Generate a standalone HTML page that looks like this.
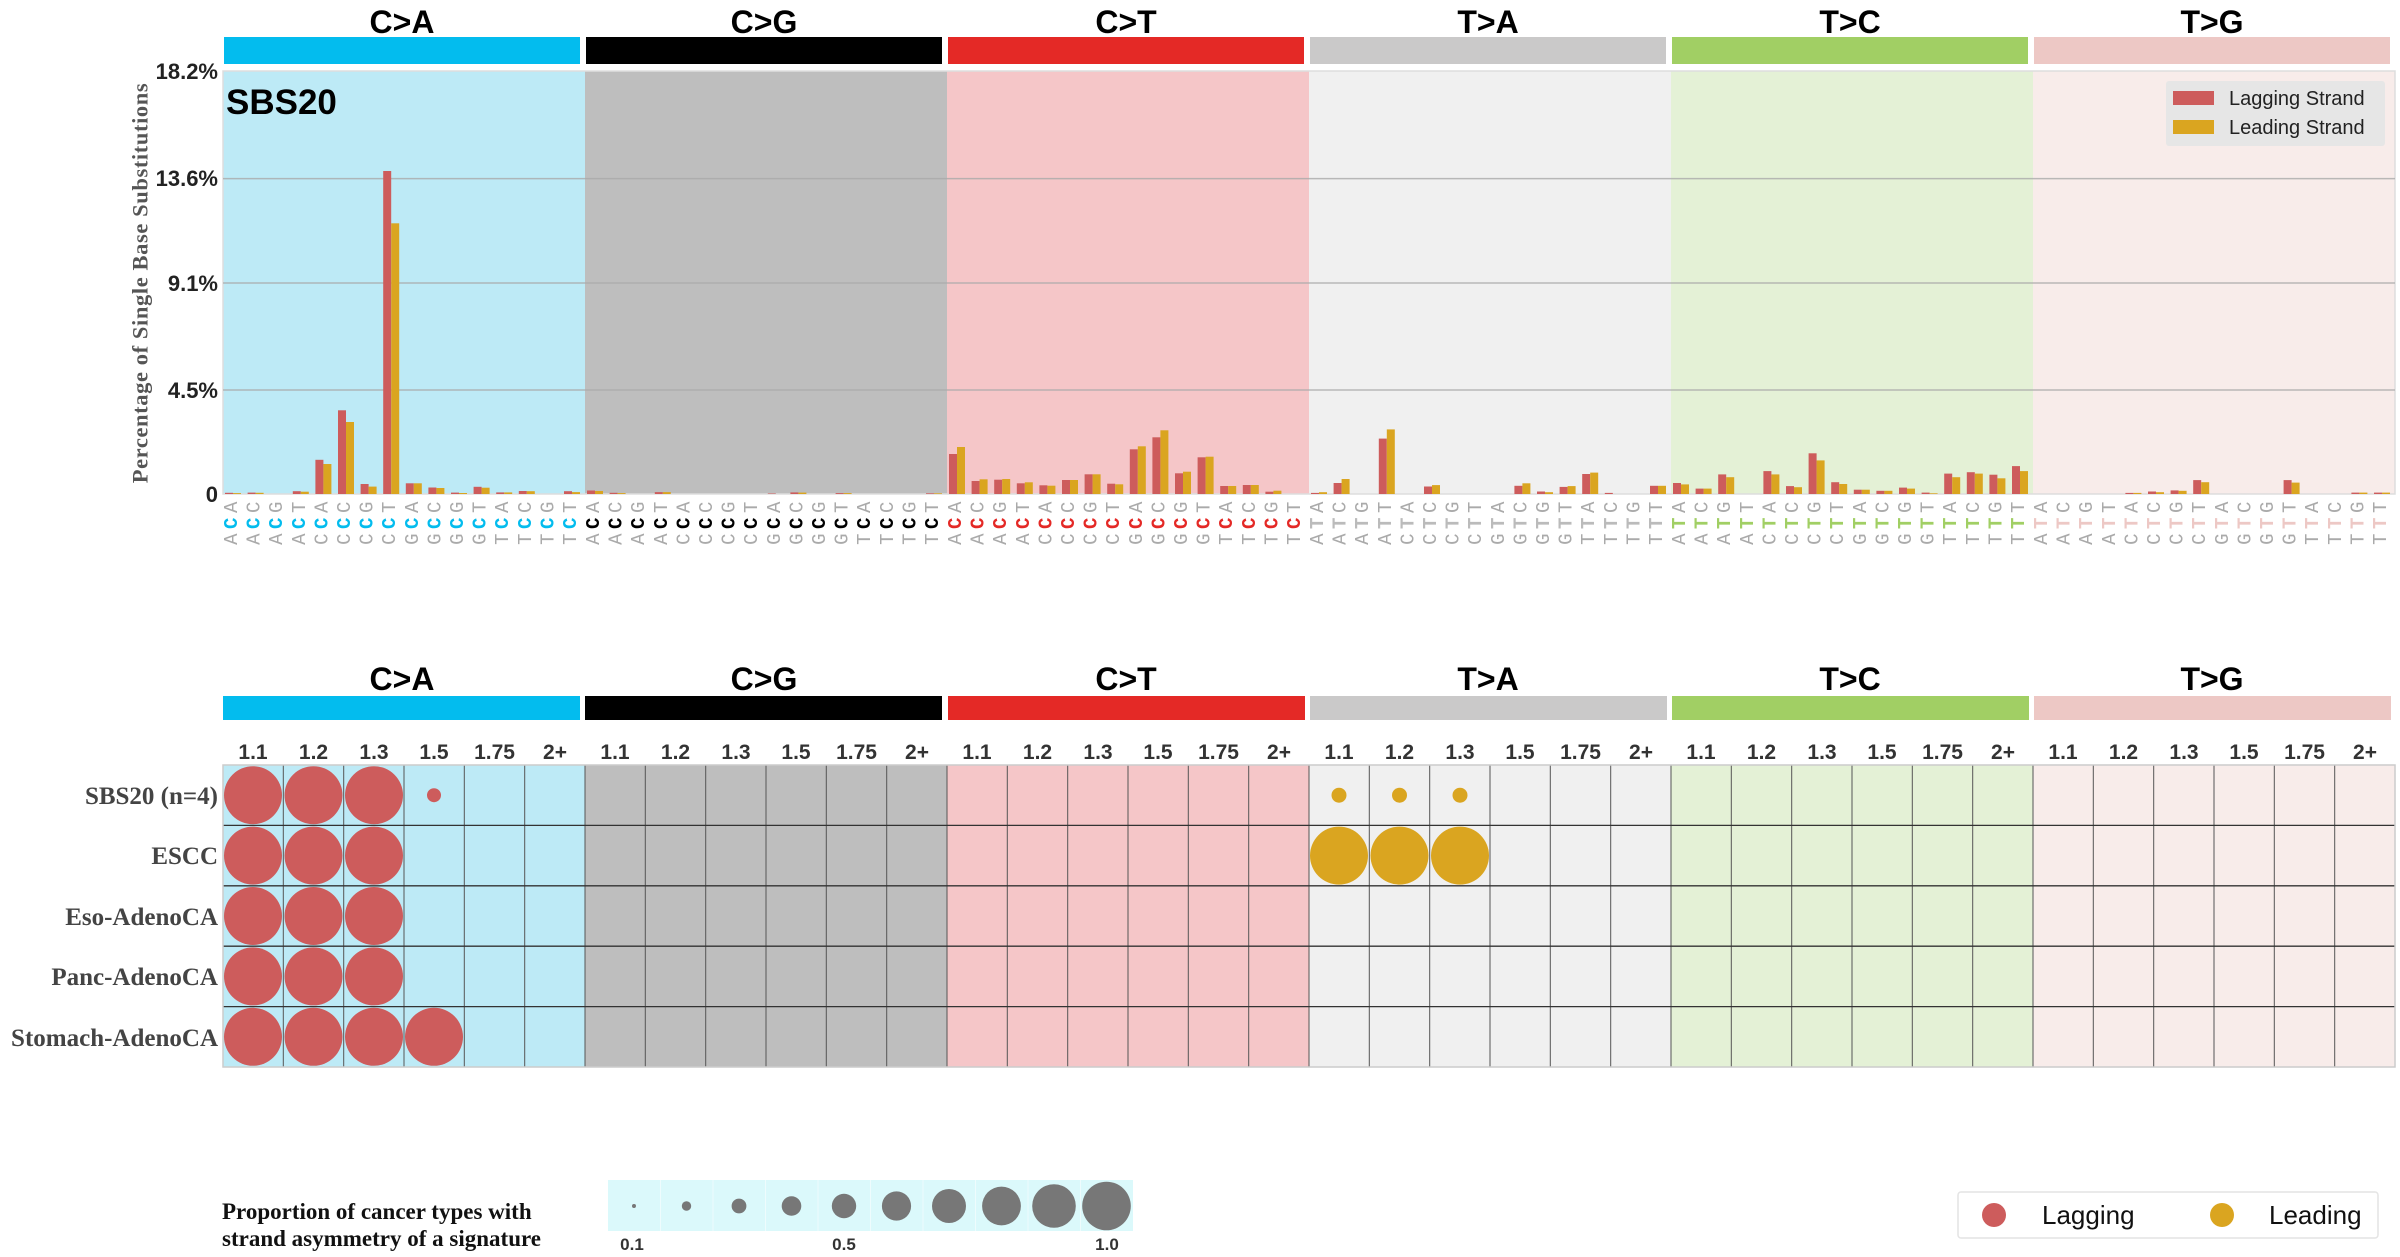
<!DOCTYPE html>
<html><head><meta charset="utf-8"><style>
body{margin:0;background:#fff}
svg{display:block}
.t{font-family:"Liberation Sans",sans-serif;font-weight:bold;font-size:32px;text-anchor:middle}
.yt{font-family:"Liberation Sans",sans-serif;font-weight:bold;font-size:22px;text-anchor:end;fill:#222}
.cl{font-family:"Liberation Sans",sans-serif;font-weight:bold;font-size:21px;text-anchor:middle;fill:#333}
.rl{font-family:"Liberation Serif",serif;font-weight:bold;font-size:25px;text-anchor:end;fill:#444}
.xl text{font-family:"Liberation Mono",monospace;font-size:19px;fill:#aaa;text-anchor:middle;dominant-baseline:central;letter-spacing:4.5px}
.xl .m{font-weight:bold}
.ca .m{fill:#03bcee}.cg .m{fill:#000}.ct .m{fill:#e42926}.ta .m{fill:#bbb}.tc .m{fill:#a1cf64}.tg .m{fill:#edc8c5}
.r{fill:#cd5c5c}.y{fill:#daa520}
</style></head><body>
<svg width="2400" height="1257" viewBox="0 0 2400 1257" xmlns="http://www.w3.org/2000/svg">
<text class="t" x="402" y="33">C&gt;A</text>
<text class="t" x="764" y="33">C&gt;G</text>
<text class="t" x="1126" y="33">C&gt;T</text>
<text class="t" x="1488" y="33">T&gt;A</text>
<text class="t" x="1850" y="33">T&gt;C</text>
<text class="t" x="2212" y="33">T&gt;G</text>
<rect x="224" y="37" width="356" height="27" fill="#03bcee"/>
<rect x="586" y="37" width="356" height="27" fill="#000"/>
<rect x="948" y="37" width="356" height="27" fill="#e42926"/>
<rect x="1310" y="37" width="356" height="27" fill="#cac9c9"/>
<rect x="1672" y="37" width="356" height="27" fill="#a1cf64"/>
<rect x="2034" y="37" width="356" height="27" fill="#edc8c5"/>
<rect x="223" y="71" width="362" height="423" fill="#bdeaf6"/>
<rect x="585" y="71" width="362" height="423" fill="#bebebe"/>
<rect x="947" y="71" width="362" height="423" fill="#f5c6c8"/>
<rect x="1309" y="71" width="362" height="423" fill="#f0f0f0"/>
<rect x="1671" y="71" width="362" height="423" fill="#e4f1d6"/>
<rect x="2033" y="71" width="362" height="423" fill="#f8ecea"/>
<rect x="223" y="71" width="2172" height="423" fill="none" stroke="#ddd" stroke-width="1.5"/>
<g stroke="#aaa" stroke-width="1.5" opacity="0.8">
<line x1="223" x2="2395" y1="178.6" y2="178.6"/>
<line x1="223" x2="2395" y1="283" y2="283"/>
<line x1="223" x2="2395" y1="390" y2="390"/>
</g>
<text class="yt" x="218" y="79">18.2%</text>
<text class="yt" x="218" y="186">13.6%</text>
<text class="yt" x="218" y="291">9.1%</text>
<text class="yt" x="218" y="398">4.5%</text>
<text class="yt" x="218" y="502">0</text>
<text x="140" y="283" transform="rotate(-90 140 283)" font-family="Liberation Serif,serif" font-weight="bold" font-size="22.5" fill="#555" text-anchor="middle" dominant-baseline="central" letter-spacing="0.6">Percentage of Single Base Substitutions</text>
<text x="226" y="114" font-family="Liberation Sans,sans-serif" font-weight="bold" font-size="35" fill="#000">SBS20</text>
<rect x="2166" y="81" width="219" height="65" fill="#e6e6e6" rx="3"/>
<rect x="2173" y="91" width="41" height="14" class="r"/>
<rect x="2173" y="120" width="41" height="14" class="y"/>
<text x="2229" y="105" font-family="Liberation Sans,sans-serif" font-size="20" fill="#222">Lagging Strand</text>
<text x="2229" y="134" font-family="Liberation Sans,sans-serif" font-size="20" fill="#222">Leading Strand</text>

<g transform="translate(223,0)">
<rect class="r" x="2" y="492.8" width="8" height="1.2"/><rect class="y" x="10" y="493.1" width="8" height="0.9"/>
<rect class="r" x="24.6" y="492.6" width="8" height="1.4"/><rect class="y" x="32.6" y="492.8" width="8" height="1.2"/>
<rect class="r" x="69.8" y="491.2" width="8" height="2.8"/><rect class="y" x="77.8" y="491.7" width="8" height="2.3"/>
<rect class="r" x="92.4" y="459.8" width="8" height="34.2"/><rect class="y" x="100.4" y="464" width="8" height="30"/>
<rect class="r" x="115" y="410.3" width="8" height="83.7"/><rect class="y" x="123" y="422" width="8" height="72"/>
<rect class="r" x="137.6" y="484" width="8" height="10"/><rect class="y" x="145.6" y="486.6" width="8" height="7.4"/>
<rect class="r" x="160.2" y="171" width="8" height="323"/><rect class="y" x="168.2" y="223.3" width="8" height="270.7"/>
<rect class="r" x="182.8" y="483.3" width="8" height="10.7"/><rect class="y" x="190.8" y="483.3" width="8" height="10.7"/>
<rect class="r" x="205.4" y="487.5" width="8" height="6.5"/><rect class="y" x="213.4" y="488" width="8" height="6"/>
<rect class="r" x="228" y="492.6" width="8" height="1.4"/><rect class="y" x="236" y="493" width="8" height="1"/>
<rect class="r" x="250.6" y="486.8" width="8" height="7.2"/><rect class="y" x="258.6" y="487.7" width="8" height="6.3"/>
<rect class="r" x="273.2" y="492.4" width="8" height="1.6"/><rect class="y" x="281.2" y="492.4" width="8" height="1.6"/>
<rect class="r" x="295.8" y="491" width="8" height="3"/><rect class="y" x="303.8" y="491.2" width="8" height="2.8"/>
<rect class="r" x="341" y="491.2" width="8" height="2.8"/><rect class="y" x="349" y="492.1" width="8" height="1.9"/>
</g>
<g transform="translate(585,0)">
<rect class="r" x="2" y="490.5" width="8" height="3.5"/><rect class="y" x="10" y="491" width="8" height="3"/>
<rect class="r" x="24.6" y="492.8" width="8" height="1.2"/><rect class="y" x="32.6" y="493.1" width="8" height="0.9"/>
<rect class="r" x="69.8" y="492.1" width="8" height="1.9"/><rect class="y" x="77.8" y="492.1" width="8" height="1.9"/>
<rect class="r" x="182.8" y="493.5" width="8" height="0.5"/>
<rect class="r" x="205.4" y="492.4" width="8" height="1.6"/><rect class="y" x="213.4" y="492.6" width="8" height="1.4"/>
<rect class="r" x="250.6" y="493.1" width="8" height="0.9"/><rect class="y" x="258.6" y="493.1" width="8" height="0.9"/>
<rect class="r" x="341" y="493.3" width="8" height="0.7"/><rect class="y" x="349" y="493.3" width="8" height="0.7"/>
</g>
<g transform="translate(947,0)">
<rect class="r" x="2" y="454" width="8" height="40"/><rect class="y" x="10" y="447" width="8" height="47"/>
<rect class="r" x="24.6" y="481" width="8" height="13"/><rect class="y" x="32.6" y="479.3" width="8" height="14.7"/>
<rect class="r" x="47.2" y="479.7" width="8" height="14.3"/><rect class="y" x="55.2" y="479" width="8" height="15"/>
<rect class="r" x="69.8" y="483.3" width="8" height="10.7"/><rect class="y" x="77.8" y="482.3" width="8" height="11.7"/>
<rect class="r" x="92.4" y="485.3" width="8" height="8.7"/><rect class="y" x="100.4" y="485.7" width="8" height="8.3"/>
<rect class="r" x="115" y="480" width="8" height="14"/><rect class="y" x="123" y="480" width="8" height="14"/>
<rect class="r" x="137.6" y="474.3" width="8" height="19.7"/><rect class="y" x="145.6" y="474.3" width="8" height="19.7"/>
<rect class="r" x="160.2" y="483.7" width="8" height="10.3"/><rect class="y" x="168.2" y="484.3" width="8" height="9.7"/>
<rect class="r" x="182.8" y="449.3" width="8" height="44.7"/><rect class="y" x="190.8" y="446.3" width="8" height="47.7"/>
<rect class="r" x="205.4" y="437.3" width="8" height="56.7"/><rect class="y" x="213.4" y="430.3" width="8" height="63.7"/>
<rect class="r" x="228" y="473.3" width="8" height="20.7"/><rect class="y" x="236" y="471.7" width="8" height="22.3"/>
<rect class="r" x="250.6" y="457.3" width="8" height="36.7"/><rect class="y" x="258.6" y="456.7" width="8" height="37.3"/>
<rect class="r" x="273.2" y="486" width="8" height="8"/><rect class="y" x="281.2" y="486" width="8" height="8"/>
<rect class="r" x="295.8" y="485" width="8" height="9"/><rect class="y" x="303.8" y="485" width="8" height="9"/>
<rect class="r" x="318.4" y="491.7" width="8" height="2.3"/><rect class="y" x="326.4" y="490.7" width="8" height="3.3"/>
</g>
<g transform="translate(1309,0)">
<rect class="r" x="2" y="492.9" width="8" height="1.1"/><rect class="y" x="10" y="492.2" width="8" height="1.8"/>
<rect class="r" x="24.6" y="483" width="8" height="11"/><rect class="y" x="32.6" y="479" width="8" height="15"/>
<rect class="r" x="69.8" y="438.6" width="8" height="55.4"/><rect class="y" x="77.8" y="429.4" width="8" height="64.6"/>
<rect class="r" x="115" y="486.5" width="8" height="7.5"/><rect class="y" x="123" y="485.1" width="8" height="8.9"/>
<rect class="r" x="205.4" y="485.8" width="8" height="8.2"/><rect class="y" x="213.4" y="483.3" width="8" height="10.7"/>
<rect class="r" x="228" y="491.5" width="8" height="2.5"/><rect class="y" x="236" y="492.2" width="8" height="1.8"/>
<rect class="r" x="250.6" y="486.9" width="8" height="7.1"/><rect class="y" x="258.6" y="486.1" width="8" height="7.9"/>
<rect class="r" x="273.2" y="474" width="8" height="20"/><rect class="y" x="281.2" y="472.6" width="8" height="21.4"/>
<rect class="r" x="295.8" y="492.9" width="8" height="1.1"/>
<rect class="r" x="341" y="485.8" width="8" height="8.2"/><rect class="y" x="349" y="485.8" width="8" height="8.2"/>
</g>
<g transform="translate(1671,0)">
<rect class="r" x="2" y="483" width="8" height="11"/><rect class="y" x="10" y="484.4" width="8" height="9.6"/>
<rect class="r" x="24.6" y="488.6" width="8" height="5.4"/><rect class="y" x="32.6" y="488.6" width="8" height="5.4"/>
<rect class="r" x="47.2" y="474.4" width="8" height="19.6"/><rect class="y" x="55.2" y="477.2" width="8" height="16.8"/>
<rect class="r" x="92.4" y="471.1" width="8" height="22.9"/><rect class="y" x="100.4" y="474.4" width="8" height="19.6"/>
<rect class="r" x="115" y="486.1" width="8" height="7.9"/><rect class="y" x="123" y="487.2" width="8" height="6.8"/>
<rect class="r" x="137.6" y="453.3" width="8" height="40.7"/><rect class="y" x="145.6" y="460.4" width="8" height="33.6"/>
<rect class="r" x="160.2" y="482.2" width="8" height="11.8"/><rect class="y" x="168.2" y="484" width="8" height="10"/>
<rect class="r" x="182.8" y="489.7" width="8" height="4.3"/><rect class="y" x="190.8" y="489.7" width="8" height="4.3"/>
<rect class="r" x="205.4" y="490.8" width="8" height="3.2"/><rect class="y" x="213.4" y="490.8" width="8" height="3.2"/>
<rect class="r" x="228" y="487.6" width="8" height="6.4"/><rect class="y" x="236" y="488.6" width="8" height="5.4"/>
<rect class="r" x="250.6" y="492.6" width="8" height="1.4"/><rect class="y" x="258.6" y="493.3" width="8" height="0.7"/>
<rect class="r" x="273.2" y="473.6" width="8" height="20.4"/><rect class="y" x="281.2" y="477.2" width="8" height="16.8"/>
<rect class="r" x="295.8" y="472.2" width="8" height="21.8"/><rect class="y" x="303.8" y="473.6" width="8" height="20.4"/>
<rect class="r" x="318.4" y="474.7" width="8" height="19.3"/><rect class="y" x="326.4" y="478.3" width="8" height="15.7"/>
<rect class="r" x="341" y="466.1" width="8" height="27.9"/><rect class="y" x="349" y="471.1" width="8" height="22.9"/>
</g>
<g transform="translate(2033,0)">
<rect class="r" x="92.4" y="492.9" width="8" height="1.1"/><rect class="y" x="100.4" y="492.9" width="8" height="1.1"/>
<rect class="r" x="115" y="491.5" width="8" height="2.5"/><rect class="y" x="123" y="492.2" width="8" height="1.8"/>
<rect class="r" x="137.6" y="490.4" width="8" height="3.6"/><rect class="y" x="145.6" y="490.8" width="8" height="3.2"/>
<rect class="r" x="160.2" y="480.1" width="8" height="13.9"/><rect class="y" x="168.2" y="482.2" width="8" height="11.8"/>
<rect class="r" x="250.6" y="480.1" width="8" height="13.9"/><rect class="y" x="258.6" y="482.6" width="8" height="11.4"/>
<rect class="r" x="318.4" y="492.6" width="8" height="1.4"/><rect class="y" x="326.4" y="492.6" width="8" height="1.4"/>
<rect class="r" x="341" y="492.6" width="8" height="1.4"/><rect class="y" x="349" y="492.6" width="8" height="1.4"/>
</g>

<g class="xl ca" transform="translate(223,0)">
<text x="9" y="521" transform="rotate(-90 9 521)">A<tspan class="m">C</tspan>A</text>
<text x="31.6" y="521" transform="rotate(-90 31.6 521)">A<tspan class="m">C</tspan>C</text>
<text x="54.2" y="521" transform="rotate(-90 54.2 521)">A<tspan class="m">C</tspan>G</text>
<text x="76.8" y="521" transform="rotate(-90 76.8 521)">A<tspan class="m">C</tspan>T</text>
<text x="99.4" y="521" transform="rotate(-90 99.4 521)">C<tspan class="m">C</tspan>A</text>
<text x="122" y="521" transform="rotate(-90 122 521)">C<tspan class="m">C</tspan>C</text>
<text x="144.6" y="521" transform="rotate(-90 144.6 521)">C<tspan class="m">C</tspan>G</text>
<text x="167.2" y="521" transform="rotate(-90 167.2 521)">C<tspan class="m">C</tspan>T</text>
<text x="189.8" y="521" transform="rotate(-90 189.8 521)">G<tspan class="m">C</tspan>A</text>
<text x="212.4" y="521" transform="rotate(-90 212.4 521)">G<tspan class="m">C</tspan>C</text>
<text x="235" y="521" transform="rotate(-90 235 521)">G<tspan class="m">C</tspan>G</text>
<text x="257.6" y="521" transform="rotate(-90 257.6 521)">G<tspan class="m">C</tspan>T</text>
<text x="280.2" y="521" transform="rotate(-90 280.2 521)">T<tspan class="m">C</tspan>A</text>
<text x="302.8" y="521" transform="rotate(-90 302.8 521)">T<tspan class="m">C</tspan>C</text>
<text x="325.4" y="521" transform="rotate(-90 325.4 521)">T<tspan class="m">C</tspan>G</text>
<text x="348" y="521" transform="rotate(-90 348 521)">T<tspan class="m">C</tspan>T</text>
</g>
<g class="xl cg" transform="translate(585,0)">
<text x="9" y="521" transform="rotate(-90 9 521)">A<tspan class="m">C</tspan>A</text>
<text x="31.6" y="521" transform="rotate(-90 31.6 521)">A<tspan class="m">C</tspan>C</text>
<text x="54.2" y="521" transform="rotate(-90 54.2 521)">A<tspan class="m">C</tspan>G</text>
<text x="76.8" y="521" transform="rotate(-90 76.8 521)">A<tspan class="m">C</tspan>T</text>
<text x="99.4" y="521" transform="rotate(-90 99.4 521)">C<tspan class="m">C</tspan>A</text>
<text x="122" y="521" transform="rotate(-90 122 521)">C<tspan class="m">C</tspan>C</text>
<text x="144.6" y="521" transform="rotate(-90 144.6 521)">C<tspan class="m">C</tspan>G</text>
<text x="167.2" y="521" transform="rotate(-90 167.2 521)">C<tspan class="m">C</tspan>T</text>
<text x="189.8" y="521" transform="rotate(-90 189.8 521)">G<tspan class="m">C</tspan>A</text>
<text x="212.4" y="521" transform="rotate(-90 212.4 521)">G<tspan class="m">C</tspan>C</text>
<text x="235" y="521" transform="rotate(-90 235 521)">G<tspan class="m">C</tspan>G</text>
<text x="257.6" y="521" transform="rotate(-90 257.6 521)">G<tspan class="m">C</tspan>T</text>
<text x="280.2" y="521" transform="rotate(-90 280.2 521)">T<tspan class="m">C</tspan>A</text>
<text x="302.8" y="521" transform="rotate(-90 302.8 521)">T<tspan class="m">C</tspan>C</text>
<text x="325.4" y="521" transform="rotate(-90 325.4 521)">T<tspan class="m">C</tspan>G</text>
<text x="348" y="521" transform="rotate(-90 348 521)">T<tspan class="m">C</tspan>T</text>
</g>
<g class="xl ct" transform="translate(947,0)">
<text x="9" y="521" transform="rotate(-90 9 521)">A<tspan class="m">C</tspan>A</text>
<text x="31.6" y="521" transform="rotate(-90 31.6 521)">A<tspan class="m">C</tspan>C</text>
<text x="54.2" y="521" transform="rotate(-90 54.2 521)">A<tspan class="m">C</tspan>G</text>
<text x="76.8" y="521" transform="rotate(-90 76.8 521)">A<tspan class="m">C</tspan>T</text>
<text x="99.4" y="521" transform="rotate(-90 99.4 521)">C<tspan class="m">C</tspan>A</text>
<text x="122" y="521" transform="rotate(-90 122 521)">C<tspan class="m">C</tspan>C</text>
<text x="144.6" y="521" transform="rotate(-90 144.6 521)">C<tspan class="m">C</tspan>G</text>
<text x="167.2" y="521" transform="rotate(-90 167.2 521)">C<tspan class="m">C</tspan>T</text>
<text x="189.8" y="521" transform="rotate(-90 189.8 521)">G<tspan class="m">C</tspan>A</text>
<text x="212.4" y="521" transform="rotate(-90 212.4 521)">G<tspan class="m">C</tspan>C</text>
<text x="235" y="521" transform="rotate(-90 235 521)">G<tspan class="m">C</tspan>G</text>
<text x="257.6" y="521" transform="rotate(-90 257.6 521)">G<tspan class="m">C</tspan>T</text>
<text x="280.2" y="521" transform="rotate(-90 280.2 521)">T<tspan class="m">C</tspan>A</text>
<text x="302.8" y="521" transform="rotate(-90 302.8 521)">T<tspan class="m">C</tspan>C</text>
<text x="325.4" y="521" transform="rotate(-90 325.4 521)">T<tspan class="m">C</tspan>G</text>
<text x="348" y="521" transform="rotate(-90 348 521)">T<tspan class="m">C</tspan>T</text>
</g>
<g class="xl ta" transform="translate(1309,0)">
<text x="9" y="521" transform="rotate(-90 9 521)">A<tspan class="m">T</tspan>A</text>
<text x="31.6" y="521" transform="rotate(-90 31.6 521)">A<tspan class="m">T</tspan>C</text>
<text x="54.2" y="521" transform="rotate(-90 54.2 521)">A<tspan class="m">T</tspan>G</text>
<text x="76.8" y="521" transform="rotate(-90 76.8 521)">A<tspan class="m">T</tspan>T</text>
<text x="99.4" y="521" transform="rotate(-90 99.4 521)">C<tspan class="m">T</tspan>A</text>
<text x="122" y="521" transform="rotate(-90 122 521)">C<tspan class="m">T</tspan>C</text>
<text x="144.6" y="521" transform="rotate(-90 144.6 521)">C<tspan class="m">T</tspan>G</text>
<text x="167.2" y="521" transform="rotate(-90 167.2 521)">C<tspan class="m">T</tspan>T</text>
<text x="189.8" y="521" transform="rotate(-90 189.8 521)">G<tspan class="m">T</tspan>A</text>
<text x="212.4" y="521" transform="rotate(-90 212.4 521)">G<tspan class="m">T</tspan>C</text>
<text x="235" y="521" transform="rotate(-90 235 521)">G<tspan class="m">T</tspan>G</text>
<text x="257.6" y="521" transform="rotate(-90 257.6 521)">G<tspan class="m">T</tspan>T</text>
<text x="280.2" y="521" transform="rotate(-90 280.2 521)">T<tspan class="m">T</tspan>A</text>
<text x="302.8" y="521" transform="rotate(-90 302.8 521)">T<tspan class="m">T</tspan>C</text>
<text x="325.4" y="521" transform="rotate(-90 325.4 521)">T<tspan class="m">T</tspan>G</text>
<text x="348" y="521" transform="rotate(-90 348 521)">T<tspan class="m">T</tspan>T</text>
</g>
<g class="xl tc" transform="translate(1671,0)">
<text x="9" y="521" transform="rotate(-90 9 521)">A<tspan class="m">T</tspan>A</text>
<text x="31.6" y="521" transform="rotate(-90 31.6 521)">A<tspan class="m">T</tspan>C</text>
<text x="54.2" y="521" transform="rotate(-90 54.2 521)">A<tspan class="m">T</tspan>G</text>
<text x="76.8" y="521" transform="rotate(-90 76.8 521)">A<tspan class="m">T</tspan>T</text>
<text x="99.4" y="521" transform="rotate(-90 99.4 521)">C<tspan class="m">T</tspan>A</text>
<text x="122" y="521" transform="rotate(-90 122 521)">C<tspan class="m">T</tspan>C</text>
<text x="144.6" y="521" transform="rotate(-90 144.6 521)">C<tspan class="m">T</tspan>G</text>
<text x="167.2" y="521" transform="rotate(-90 167.2 521)">C<tspan class="m">T</tspan>T</text>
<text x="189.8" y="521" transform="rotate(-90 189.8 521)">G<tspan class="m">T</tspan>A</text>
<text x="212.4" y="521" transform="rotate(-90 212.4 521)">G<tspan class="m">T</tspan>C</text>
<text x="235" y="521" transform="rotate(-90 235 521)">G<tspan class="m">T</tspan>G</text>
<text x="257.6" y="521" transform="rotate(-90 257.6 521)">G<tspan class="m">T</tspan>T</text>
<text x="280.2" y="521" transform="rotate(-90 280.2 521)">T<tspan class="m">T</tspan>A</text>
<text x="302.8" y="521" transform="rotate(-90 302.8 521)">T<tspan class="m">T</tspan>C</text>
<text x="325.4" y="521" transform="rotate(-90 325.4 521)">T<tspan class="m">T</tspan>G</text>
<text x="348" y="521" transform="rotate(-90 348 521)">T<tspan class="m">T</tspan>T</text>
</g>
<g class="xl tg" transform="translate(2033,0)">
<text x="9" y="521" transform="rotate(-90 9 521)">A<tspan class="m">T</tspan>A</text>
<text x="31.6" y="521" transform="rotate(-90 31.6 521)">A<tspan class="m">T</tspan>C</text>
<text x="54.2" y="521" transform="rotate(-90 54.2 521)">A<tspan class="m">T</tspan>G</text>
<text x="76.8" y="521" transform="rotate(-90 76.8 521)">A<tspan class="m">T</tspan>T</text>
<text x="99.4" y="521" transform="rotate(-90 99.4 521)">C<tspan class="m">T</tspan>A</text>
<text x="122" y="521" transform="rotate(-90 122 521)">C<tspan class="m">T</tspan>C</text>
<text x="144.6" y="521" transform="rotate(-90 144.6 521)">C<tspan class="m">T</tspan>G</text>
<text x="167.2" y="521" transform="rotate(-90 167.2 521)">C<tspan class="m">T</tspan>T</text>
<text x="189.8" y="521" transform="rotate(-90 189.8 521)">G<tspan class="m">T</tspan>A</text>
<text x="212.4" y="521" transform="rotate(-90 212.4 521)">G<tspan class="m">T</tspan>C</text>
<text x="235" y="521" transform="rotate(-90 235 521)">G<tspan class="m">T</tspan>G</text>
<text x="257.6" y="521" transform="rotate(-90 257.6 521)">G<tspan class="m">T</tspan>T</text>
<text x="280.2" y="521" transform="rotate(-90 280.2 521)">T<tspan class="m">T</tspan>A</text>
<text x="302.8" y="521" transform="rotate(-90 302.8 521)">T<tspan class="m">T</tspan>C</text>
<text x="325.4" y="521" transform="rotate(-90 325.4 521)">T<tspan class="m">T</tspan>G</text>
<text x="348" y="521" transform="rotate(-90 348 521)">T<tspan class="m">T</tspan>T</text>
</g>

<text class="t" x="402" y="690">C&gt;A</text>
<text class="t" x="764" y="690">C&gt;G</text>
<text class="t" x="1126" y="690">C&gt;T</text>
<text class="t" x="1488" y="690">T&gt;A</text>
<text class="t" x="1850" y="690">T&gt;C</text>
<text class="t" x="2212" y="690">T&gt;G</text>
<rect x="223" y="696" width="357" height="24" fill="#03bcee"/>
<rect x="585" y="696" width="357" height="24" fill="#000"/>
<rect x="948" y="696" width="357" height="24" fill="#e42926"/>
<rect x="1310" y="696" width="357" height="24" fill="#cac9c9"/>
<rect x="1672" y="696" width="357" height="24" fill="#a1cf64"/>
<rect x="2034" y="696" width="357" height="24" fill="#edc8c5"/>
<g>
<text class="cl" x="253" y="759">1.1</text><text class="cl" x="313.5" y="759">1.2</text><text class="cl" x="374" y="759">1.3</text><text class="cl" x="434" y="759">1.5</text><text class="cl" x="494.5" y="759">1.75</text><text class="cl" x="555" y="759">2+</text>
<text class="cl" x="615" y="759">1.1</text><text class="cl" x="675.5" y="759">1.2</text><text class="cl" x="736" y="759">1.3</text><text class="cl" x="796" y="759">1.5</text><text class="cl" x="856.5" y="759">1.75</text><text class="cl" x="917" y="759">2+</text>
<text class="cl" x="977" y="759">1.1</text><text class="cl" x="1037.5" y="759">1.2</text><text class="cl" x="1098" y="759">1.3</text><text class="cl" x="1158" y="759">1.5</text><text class="cl" x="1218.5" y="759">1.75</text><text class="cl" x="1279" y="759">2+</text>
<text class="cl" x="1339" y="759">1.1</text><text class="cl" x="1399.5" y="759">1.2</text><text class="cl" x="1460" y="759">1.3</text><text class="cl" x="1520" y="759">1.5</text><text class="cl" x="1580.5" y="759">1.75</text><text class="cl" x="1641" y="759">2+</text>
<text class="cl" x="1701" y="759">1.1</text><text class="cl" x="1761.5" y="759">1.2</text><text class="cl" x="1822" y="759">1.3</text><text class="cl" x="1882" y="759">1.5</text><text class="cl" x="1942.5" y="759">1.75</text><text class="cl" x="2003" y="759">2+</text>
<text class="cl" x="2063" y="759">1.1</text><text class="cl" x="2123.5" y="759">1.2</text><text class="cl" x="2184" y="759">1.3</text><text class="cl" x="2244" y="759">1.5</text><text class="cl" x="2304.5" y="759">1.75</text><text class="cl" x="2365" y="759">2+</text>
</g>
<rect x="223" y="765" width="362" height="302" fill="#bdeaf6"/>
<rect x="585" y="765" width="362" height="302" fill="#bebebe"/>
<rect x="947" y="765" width="362" height="302" fill="#f5c6c8"/>
<rect x="1309" y="765" width="362" height="302" fill="#f0f0f0"/>
<rect x="1671" y="765" width="362" height="302" fill="#e4f1d6"/>
<rect x="2033" y="765" width="362" height="302" fill="#f8ecea"/>
<g stroke="#555" stroke-width="1">
<line x1="283.3" x2="283.3" y1="765" y2="1067"/><line x1="343.7" x2="343.7" y1="765" y2="1067"/><line x1="404" x2="404" y1="765" y2="1067"/><line x1="464.3" x2="464.3" y1="765" y2="1067"/><line x1="524.7" x2="524.7" y1="765" y2="1067"/><line x1="585" x2="585" y1="765" y2="1067"/>
<line x1="645.3" x2="645.3" y1="765" y2="1067"/><line x1="705.7" x2="705.7" y1="765" y2="1067"/><line x1="766" x2="766" y1="765" y2="1067"/><line x1="826.3" x2="826.3" y1="765" y2="1067"/><line x1="886.7" x2="886.7" y1="765" y2="1067"/><line x1="947" x2="947" y1="765" y2="1067"/>
<line x1="1007.3" x2="1007.3" y1="765" y2="1067"/><line x1="1067.7" x2="1067.7" y1="765" y2="1067"/><line x1="1128" x2="1128" y1="765" y2="1067"/><line x1="1188.3" x2="1188.3" y1="765" y2="1067"/><line x1="1248.7" x2="1248.7" y1="765" y2="1067"/><line x1="1309" x2="1309" y1="765" y2="1067"/>
<line x1="1369.3" x2="1369.3" y1="765" y2="1067"/><line x1="1429.7" x2="1429.7" y1="765" y2="1067"/><line x1="1490" x2="1490" y1="765" y2="1067"/><line x1="1550.3" x2="1550.3" y1="765" y2="1067"/><line x1="1610.7" x2="1610.7" y1="765" y2="1067"/><line x1="1671" x2="1671" y1="765" y2="1067"/>
<line x1="1731.3" x2="1731.3" y1="765" y2="1067"/><line x1="1791.7" x2="1791.7" y1="765" y2="1067"/><line x1="1852" x2="1852" y1="765" y2="1067"/><line x1="1912.3" x2="1912.3" y1="765" y2="1067"/><line x1="1972.7" x2="1972.7" y1="765" y2="1067"/><line x1="2033" x2="2033" y1="765" y2="1067"/>
<line x1="2093.3" x2="2093.3" y1="765" y2="1067"/><line x1="2153.7" x2="2153.7" y1="765" y2="1067"/><line x1="2214" x2="2214" y1="765" y2="1067"/><line x1="2274.3" x2="2274.3" y1="765" y2="1067"/><line x1="2334.7" x2="2334.7" y1="765" y2="1067"/>
</g>
<g stroke="#333" stroke-width="1.3">
<line x1="223" x2="2395" y1="825.4" y2="825.4"/><line x1="223" x2="2395" y1="885.8" y2="885.8"/><line x1="223" x2="2395" y1="946.2" y2="946.2"/><line x1="223" x2="2395" y1="1006.6" y2="1006.6"/>
</g>
<rect x="223" y="765" width="2172" height="302" fill="none" stroke="#ccc" stroke-width="1.5"/>
<g class="r">
<circle cx="253" cy="795.2" r="29"/><circle cx="313.5" cy="795.2" r="29"/><circle cx="374" cy="795.2" r="29"/><circle cx="434" cy="795.2" r="7"/>
<circle cx="253" cy="855.6" r="29"/><circle cx="313.5" cy="855.6" r="29"/><circle cx="374" cy="855.6" r="29"/>
<circle cx="253" cy="916" r="29"/><circle cx="313.5" cy="916" r="29"/><circle cx="374" cy="916" r="29"/>
<circle cx="253" cy="976.4" r="29"/><circle cx="313.5" cy="976.4" r="29"/><circle cx="374" cy="976.4" r="29"/>
<circle cx="253" cy="1036.8" r="29"/><circle cx="313.5" cy="1036.8" r="29"/><circle cx="374" cy="1036.8" r="29"/><circle cx="434" cy="1036.8" r="29"/>
</g>
<g class="y">
<circle cx="1339" cy="795.2" r="7.5"/><circle cx="1399.5" cy="795.2" r="7.5"/><circle cx="1460" cy="795.2" r="7.5"/>
<circle cx="1339" cy="855.6" r="29"/><circle cx="1399.5" cy="855.6" r="29"/><circle cx="1460" cy="855.6" r="29"/>
</g>
<text class="rl" x="218" y="804">SBS20 (n=4)</text>
<text class="rl" x="218" y="864">ESCC</text>
<text class="rl" x="218" y="925">Eso-AdenoCA</text>
<text class="rl" x="218" y="985">Panc-AdenoCA</text>
<text class="rl" x="218" y="1046">Stomach-AdenoCA</text>

<text x="222" y="1219" font-family="Liberation Serif,serif" font-weight="bold" font-size="23" fill="#111">Proportion of cancer types with</text>
<text x="222" y="1246" font-family="Liberation Serif,serif" font-weight="bold" font-size="23" fill="#111">strand asymmetry of a signature</text>
<rect x="608" y="1180" width="525" height="51" fill="#dbf9fb"/>
<g stroke="#eefcfd" stroke-width="1">
<line x1="660.5" x2="660.5" y1="1180" y2="1231"/><line x1="713" x2="713" y1="1180" y2="1231"/><line x1="765.5" x2="765.5" y1="1180" y2="1231"/><line x1="818" x2="818" y1="1180" y2="1231"/><line x1="870.5" x2="870.5" y1="1180" y2="1231"/><line x1="923" x2="923" y1="1180" y2="1231"/><line x1="975.5" x2="975.5" y1="1180" y2="1231"/><line x1="1028" x2="1028" y1="1180" y2="1231"/><line x1="1080.5" x2="1080.5" y1="1180" y2="1231"/>
</g>
<g fill="#777">
<circle cx="634" cy="1206" r="2"/><circle cx="686.5" cy="1206" r="4.7"/><circle cx="739" cy="1206" r="7.4"/><circle cx="791.5" cy="1206" r="9.8"/><circle cx="844" cy="1206" r="12.2"/><circle cx="896.5" cy="1206" r="14.6"/><circle cx="949" cy="1206" r="17"/><circle cx="1001.5" cy="1206" r="19.4"/><circle cx="1054" cy="1206" r="21.8"/><circle cx="1106.5" cy="1206" r="24.3"/>
</g>
<g font-family="Liberation Sans,sans-serif" font-weight="bold" font-size="17" fill="#333" text-anchor="middle">
<text x="632" y="1250">0.1</text><text x="844" y="1250">0.5</text><text x="1107" y="1250">1.0</text>
</g>
<rect x="1958" y="1192" width="420" height="46" fill="#fff" stroke="#e4e4e4" stroke-width="1.5" rx="3"/>
<circle cx="1994" cy="1215" r="12" class="r"/>
<text x="2042" y="1224" font-family="Liberation Sans,sans-serif" font-size="26" fill="#111">Lagging</text>
<circle cx="2222" cy="1215" r="12" class="y"/>
<text x="2269" y="1224" font-family="Liberation Sans,sans-serif" font-size="26" fill="#111">Leading</text>
</svg>
</body></html>
